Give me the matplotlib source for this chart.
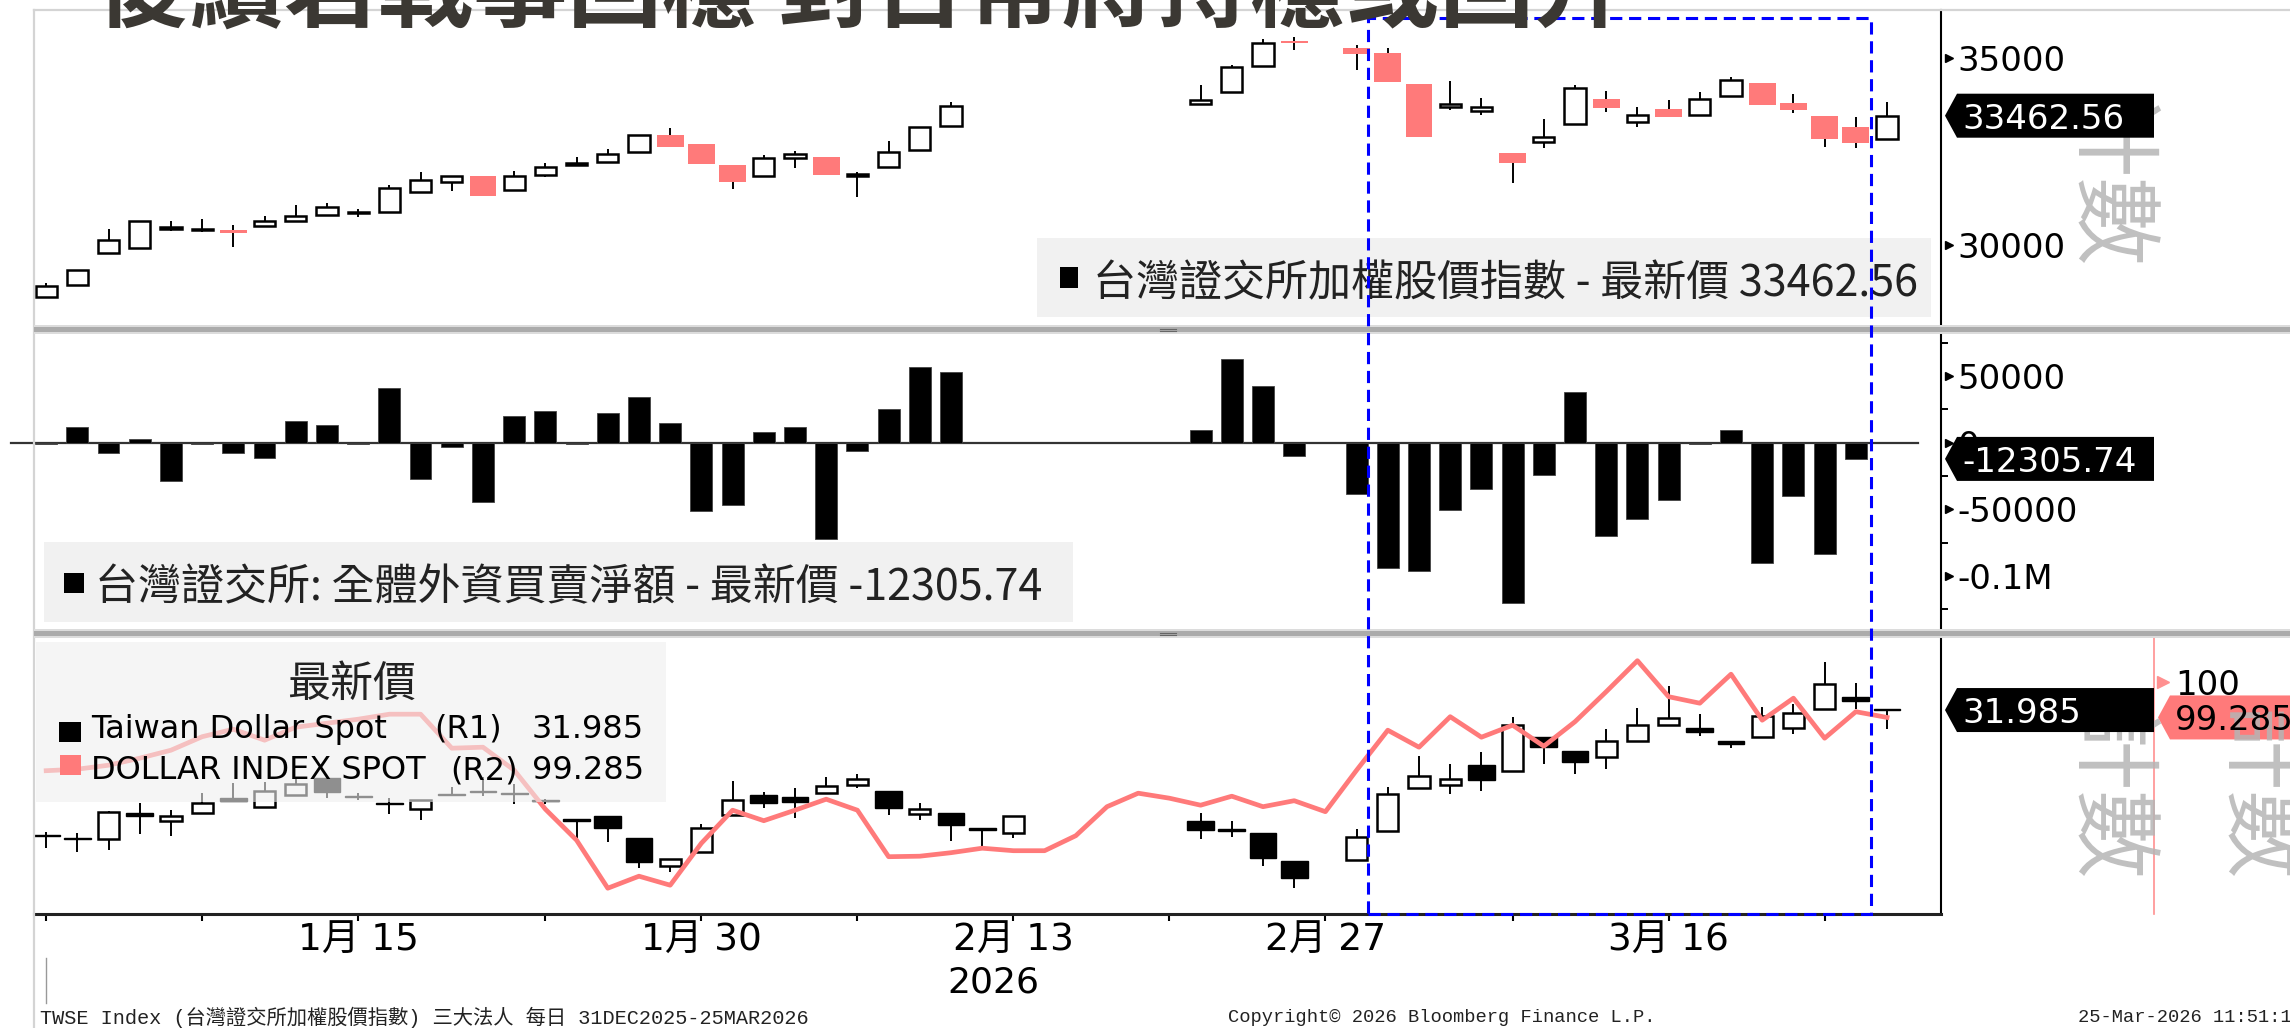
import matplotlib
matplotlib.use('Agg')
import matplotlib.pyplot as plt
import numpy as np
from matplotlib.patches import Rectangle, Polygon
from matplotlib.transforms import IdentityTransform

W, H = 2290, 1028
CJK = ['Noto Sans CJK TC', 'DejaVu Sans']
LAT = ['DejaVu Sans', 'Noto Sans CJK TC']
MONO = ['Liberation Mono', 'Noto Sans CJK TC']
PINK = '#ff7a7a'

# x positions are weekday slots: 0 = 31 Dec 2025 ... 59 = 25 Mar 2026
label_slots = [10, 21, 31, 41, 52]
tick_labels = ['1月 15', '1月 30', '2月 13', '2月 27', '3月 16']
minor_slots = [0, 5, 16, 26, 36, 47, 57]

# TWSE index candles
twse_x = list(range(0, 30)) + [37, 38, 39, 40] + list(range(42, 60))
twse_open = [28616, 28929, 29776, 29910, 30420, 30390, 30401, 30517, 30651, 30803,
             30850, 30892, 31428, 31696, 31857, 31473, 31874, 32142, 32214, 32499,
             32946, 32705, 32142, 31848, 32321, 32365, 31848, 32080, 32544, 33195,
             33767, 34088, 34793, 35472,
             35267, 35150, 34302, 33704, 33588, 32472, 32767, 33240, 33910, 33285,
             33642, 33481, 33999, 34347, 33811, 33454, 33169, 32830]
twse_high = [28973, 29330, 30419, 30651, 30651, 30696, 30535, 30776, 31071, 31115,
             30955, 31607, 31964, 31857, 31857, 31990, 32187, 32347, 32562, 32946,
             33124, 32705, 32142, 32410, 32517, 32365, 31964, 32794, 33151, 33838,
             34285, 34820, 35508, 35561,
             35356, 35284, 34302, 34392, 33927, 32472, 33365, 34285, 34124, 33704,
             33883, 34106, 34490, 34347, 34044, 33454, 33437, 33838]
twse_low = [28616, 28929, 29776, 29910, 30384, 30339, 29955, 30517, 30620, 30803,
            30758, 30892, 31428, 31446, 31312, 31473, 31830, 32142, 32214, 32499,
            32633, 32160, 31500, 31848, 32053, 31874, 31276, 32080, 32544, 33195,
            33767, 34088, 34793, 35222,
            34686, 34374, 32901, 33615, 33481, 31651, 32589, 33240, 33570, 33151,
            33437, 33481, 33999, 33749, 33526, 32633, 32589, 32830]
twse_close = [28902, 29330, 30134, 30651, 30470, 30420, 30330, 30651, 30776, 31008,
              30885, 31517, 31740, 31857, 31312, 31857, 32098, 32187, 32437, 32946,
              32633, 32160, 31678, 32321, 32428, 31874, 31901, 32499, 33151, 33722,
              33883, 34758, 35418, 35400,
              35115, 34374, 32901, 33767, 33687, 32205, 32901, 34195, 33660, 33481,
              33437, 33901, 34419, 33749, 33615, 32830, 32722, 33462.56]

# foreign investors net buy/sell
flow_x = list(range(0, 30)) + [37, 38, 39, 40] + list(range(42, 59))
flow = [-1200, 12000, -7500, 2500, -28500, -1200, -7750, -11500, 16000, 13250,
        -1200, 41000, -27250, -3500, -44500, 19750, 24000, -1200, 22250, 34250,
        14500, -51000, -46500, 7750, 12000, -72000, -6000, 25250, 56500, 52750,
        9250, 63000, 42250, -9750,
        -38500, -94000, -96500, -50750, -34750, -120250, -24500, 38000, -70250,
        -57000, -42750, -1200, 9250, -90250, -40250, -83500, -12305.74]

# USD/TWD candles
twd_x = list(range(0, 32)) + [37, 38, 39, 40] + list(range(42, 60))
twd_open = [31.441, 31.429, 31.424, 31.536, 31.502, 31.539, 31.601, 31.562, 31.615, 31.688,
            31.611, 31.581, 31.554, 31.620, 31.632, 31.625, 31.593, 31.510, 31.526, 31.427,
            31.307, 31.366, 31.528, 31.615, 31.608, 31.623, 31.659, 31.633, 31.531, 31.536,
            31.470, 31.449,
            31.504, 31.466, 31.452, 31.330,
            31.333, 31.460, 31.645, 31.659, 31.746, 31.721, 31.866, 31.808, 31.782, 31.852,
            31.920, 31.905, 31.852, 31.866, 31.905, 31.988, 32.043, 31.988]
twd_high = [31.456, 31.449, 31.546, 31.582, 31.550, 31.623, 31.666, 31.673, 31.688, 31.688,
            31.623, 31.601, 31.594, 31.652, 31.695, 31.663, 31.600, 31.510, 31.526, 31.427,
            31.336, 31.488, 31.676, 31.630, 31.644, 31.695, 31.707, 31.633, 31.579, 31.536,
            31.470, 31.526,
            31.536, 31.504, 31.452, 31.330,
            31.466, 31.652, 31.786, 31.749, 31.801, 31.953, 31.866, 31.808, 31.902, 31.992,
            32.089, 31.968, 31.852, 31.999, 32.011, 32.195, 32.104, 31.988]
twd_low = [31.383, 31.369, 31.376, 31.446, 31.439, 31.539, 31.591, 31.562, 31.615, 31.601,
           31.594, 31.531, 31.507, 31.611, 31.611, 31.576, 31.576, 31.427, 31.410, 31.296,
           31.279, 31.366, 31.528, 31.557, 31.514, 31.623, 31.647, 31.528, 31.507, 31.415,
           31.391, 31.427,
           31.423, 31.431, 31.308, 31.210,
           31.333, 31.460, 31.645, 31.620, 31.634, 31.721, 31.749, 31.705, 31.727, 31.852,
           31.920, 31.872, 31.818, 31.866, 31.879, 31.988, 31.988, 31.902]
twd_close = [31.437, 31.425, 31.540, 31.526, 31.526, 31.579, 31.591, 31.634, 31.663, 31.630,
             31.605, 31.577, 31.594, 31.616, 31.628, 31.621, 31.589, 31.501, 31.471, 31.325,
             31.336, 31.471, 31.594, 31.579, 31.583, 31.655, 31.683, 31.560, 31.554, 31.485,
             31.463, 31.526,
             31.463, 31.460, 31.340, 31.253,
             31.434, 31.618, 31.699, 31.685, 31.681, 31.920, 31.826, 31.757, 31.852, 31.920,
             31.952, 31.891, 31.837, 31.959, 31.973, 32.098, 32.025, 31.985]

# Dollar index line
dxy_x = list(range(0, 60))
dxy = [98.22, 98.25, 98.33, 98.47, 98.63, 98.90, 99.05, 98.83, 99.09, 99.17,
       99.25, 99.35, 99.35, 98.67, 98.69, 98.23, 97.45, 96.83, 95.87, 96.11,
       95.93, 96.77, 97.43, 97.22, 97.43, 97.65, 97.43, 96.50, 96.51, 96.58,
       96.67, 96.62, 96.62, 96.92, 97.50, 97.77, 97.67, 97.53, 97.71, 97.50,
       97.62, 97.40, 98.23, 99.03, 98.69, 99.30, 98.89, 99.13, 98.71, 99.20,
       99.80, 100.42, 99.70, 99.57, 100.15, 99.23, 99.67, 98.87, 99.40, 99.285]

fig = plt.figure(figsize=(W / 100, H / 100), dpi=100)
fig.patch.set_facecolor('white')


def axes_px(x0, y0, x1, y1):
    return fig.add_axes([x0 / W, 1 - y1 / H, (x1 - x0) / W, (y1 - y0) / H])


def frect(x0, y0, x1, y1, **kw):
    r = Rectangle((x0 / W, 1 - y1 / H), (x1 - x0) / W, (y1 - y0) / H,
                  transform=fig.transFigure, **kw)
    fig.add_artist(r)
    return r


def fline(xs, ys, **kw):
    fig.add_artist(plt.Line2D([x / W for x in xs], [1 - y / H for y in ys],
                              transform=fig.transFigure, **kw))


def candles(ax, x, o, h, l, c, down_color, down_edge, minh):
    x = np.array(x, float)
    o, h, l, c = (np.array(v, float) for v in (o, h, l, c))
    ax.vlines(x, l, h, color='black', lw=1.4, zorder=2)
    up = c >= o
    bot = np.minimum(o, c)
    hgt = np.maximum(np.abs(c - o), minh)
    ax.bar(x[up], hgt[up], bottom=bot[up], width=0.68, facecolor='white',
           edgecolor='black', lw=1.8, zorder=3)
    ax.bar(x[~up], hgt[~up], bottom=bot[~up], width=0.86, facecolor=down_color,
           edgecolor=down_edge, lw=1.0, zorder=3)


XL = (-0.39, 60.73)
ax1 = axes_px(34, 10, 1941, 327)
ax2 = axes_px(34, 333, 1941, 631)
ax3 = axes_px(34, 636, 1941, 914)
ax3b = ax3.twinx()

for ax in (ax1, ax2, ax3, ax3b):
    ax.set_xlim(*XL)
    ax.patch.set_alpha(0)
    for s in ('left', 'top'):
        ax.spines[s].set_visible(False)
    ax.spines['right'].set_linewidth(1.5)
for ax in (ax1, ax2, ax3b):
    ax.spines['bottom'].set_visible(False)
    ax.tick_params(axis='x', which='both', bottom=False, labelbottom=False)

ax1.set_ylim(27804, 36293)
ax2.set_ylim(-141375, 82125)
ax3.set_ylim(31.098, 32.307)
ax3b.set_ylim(95.354, 100.914)

# top panel: TWSE
candles(ax1, twse_x, twse_open, twse_high, twse_low, twse_close, PINK, 'none', 30)
ax1.yaxis.tick_right()
ax1.set_yticks([30000, 35000])
ax1.set_yticklabels(['30000', '35000'])
ax1.tick_params(axis='y', length=0, pad=12, labelsize=24.5)
ax1.plot([1.004, 1.004], [30000, 35000], ls='none', marker='>', ms=6, color='black',
         transform=ax1.get_yaxis_transform(), clip_on=False)

# middle panel: foreign net flows
ax2.bar(flow_x, flow, width=0.7, color='black', edgecolor='#444444', lw=0.6, zorder=2)
ax2.axhline(0, xmin=-0.012, xmax=0.988, color='#333333', lw=1.6, clip_on=False, zorder=1)
ax2.yaxis.tick_right()
ax2.set_yticks([50000, 0, -50000, -100000])
ax2.set_yticklabels(['50000', '0', '-50000', '-0.1M'])
ax2.set_yticks([75000, 25000, -25000, -75000, -125000], minor=True)
ax2.tick_params(axis='y', which='major', length=0, pad=12, labelsize=24.5)
ax2.tick_params(axis='y', which='minor', length=5, width=1.4, direction='out')
ax2.plot([1.004] * 4, [50000, 0, -50000, -100000], ls='none', marker='>', ms=6,
         color='black', transform=ax2.get_yaxis_transform(), clip_on=False)

# bottom panel: USD/TWD candles + DXY
candles(ax3, twd_x, twd_open, twd_high, twd_low, twd_close, 'black', 'black', 0.004)
ax3.set_yticks([])
ax3.spines['bottom'].set_linewidth(2.2)
ax3.spines['bottom'].set_color('#222222')
ax3.set_xticks(label_slots)
ax3.set_xticklabels(tick_labels, family=LAT, fontsize=27)
ax3.set_xticks(minor_slots, minor=True)
ax3.tick_params(axis='x', which='both', length=5, width=1.5, direction='out', pad=1)
ax3.text(30.35, -0.245, '2026', transform=ax3.get_xaxis_transform(), ha='center',
         va='center', fontsize=26, family=LAT)
ax3.plot([0, 0], [-0.158, -0.32], transform=ax3.get_xaxis_transform(), clip_on=False,
         color='#999999', lw=1)

ax3b.plot(dxy_x, dxy, color=PINK, lw=3.4, zorder=4)
ax3b.spines['right'].set_position(('outward', 153.4))
ax3b.spines['right'].set_color('#ff9090')
ax3b.spines['right'].set_linewidth(1.2)
ax3b.set_yticks([100])
ax3b.set_yticklabels(['100'])
ax3b.tick_params(axis='y', length=0, pad=15, labelsize=24.5)
ax3b.plot([1.1162], [100], ls='none', marker='>', ms=8, color='#ff9090',
          transform=ax3b.get_yaxis_transform(), clip_on=False)

# frame lines and panel separators
fline([34, 2290], [10, 10], color='#d4d4d4', lw=1.6)
fline([34, 34], [10, 1028], color='#d4d4d4', lw=1.6)
for y0 in (325, 629):
    frect(34, y0, 2290, y0 + 9, facecolor='#dcdcdc', edgecolor='none', zorder=2)
    frect(34, y0 + 2, 2290, y0 + 7, facecolor='#ababab', edgecolor='none', zorder=2)
    fline([1160, 1176], [y0 + 3.5, y0 + 3.5], color='#666666', lw=0.8, zorder=3)
    fline([1160, 1176], [y0 + 5.5, y0 + 5.5], color='#666666', lw=0.8, zorder=3)

# legends
frect(1037, 238, 1931, 317, facecolor='#f1f1f1', edgecolor='none', zorder=1.5)
frect(1060, 267, 1078, 288, facecolor='black', edgecolor='none', zorder=2)
fig.text(1093 / W, 1 - 279 / H, '台灣證交所加權股價指數 - 最新價 33462.56', family=CJK,
         fontsize=31, va='center_baseline', ha='left', color='#222222')

frect(44, 542, 1073, 622, facecolor='#f1f1f1', edgecolor='none', zorder=1.5)
frect(64, 573, 84, 593, facecolor='black', edgecolor='none', zorder=2)
fig.text(95 / W, 1 - 583 / H, '台灣證交所: 全體外資買賣淨額 - 最新價 -12305.74', family=CJK,
         fontsize=31, va='center_baseline', ha='left', color='#222222')

frect(36, 642, 666, 802, facecolor='#efefef', edgecolor='none', alpha=0.6, zorder=1.5)
fig.text(352 / W, 1 - 680 / H, '最新價', family=CJK, fontsize=31,
         va='center_baseline', ha='center', color='#222222')
frect(59, 722, 81, 742, facecolor='black', edgecolor='none', zorder=2)
frect(60, 755, 81, 775, facecolor=PINK, edgecolor='none', zorder=2)
for yy, name, tag_r, val, xr in ((726, 'Taiwan Dollar Spot', '(R1)', '31.985', 434),
                                 (767, 'DOLLAR INDEX SPOT', '(R2)', '99.285', 450)):
    fig.text(91 / W, 1 - yy / H, name, family=LAT, fontsize=23, va='center_baseline',
             ha='left', color='black')
    fig.text(xr / W, 1 - yy / H, tag_r, family=LAT, fontsize=23, va='center_baseline',
             ha='left', color='black')
    fig.text(644 / W, 1 - yy / H, val, family=LAT, fontsize=23, va='center_baseline',
             ha='right', color='black')

# grey axis-name watermarks
for wx, wy in ((2105, 182), (2105, 795), (2255, 795)):
    fig.text(wx / W, 1 - wy / H, '計數', family=CJK, fontsize=64, rotation=270,
             color='#b5b5b5', alpha=0.85, ha='center', va='center', zorder=4)


def tag(ax, val, txt, x0, x1, face, tcolor, z=5):
    y = ax.transData.transform((0, val))[1]
    hh = 22
    pts = [(x0, y), (x0 + 12, y + hh), (x1, y + hh), (x1, y - hh), (x0 + 12, y - hh)]
    fig.add_artist(Polygon(pts, closed=True, transform=IdentityTransform(),
                           facecolor=face, edgecolor='none', zorder=z))
    fig.text((x0 + 17) / W, y / H, txt, color=tcolor, fontsize=24.5, family=LAT,
             va='center_baseline', ha='left', zorder=z + 1)


tag(ax1, twse_close[-1], '33462.56', 1945, 2154, 'black', 'white')
tag(ax2, flow[-1], '-12305.74', 1945, 2154, 'black', 'white')
tag(ax3, twd_close[-1], '31.985', 1945, 2154, 'black', 'white')
tag(ax3b, dxy[-1], '99.285', 2158, 2300, PINK, 'black', z=3)

# highlight box
frect(1368, 18, 1871, 914, facecolor='none', edgecolor='#0000ff', lw=2.2,
      linestyle=(0, (4, 2.2)), zorder=7)

# title (cropped at the top edge in the source)
fig.text(95 / W, 1 - 20 / H, '後續若戰事回穩 對台幣將持穩或回升', family=CJK,
         fontsize=68, fontweight='bold', color='#3b3833', ha='left', va='baseline',
         zorder=8)

# footer
fig.text(40 / W, 1 - 1017 / H, 'TWSE Index (台灣證交所加權股價指數) 三大法人 每日 31DEC2025-25MAR2026',
         family=MONO, fontsize=14.6, va='center', ha='left', color='#222222')
fig.text(1228 / W, 1 - 1017 / H, 'Copyright© 2026 Bloomberg Finance L.P.',
         family=MONO, fontsize=13.5, va='center', ha='left', color='#222222')
fig.text(2078 / W, 1 - 1017 / H, '25-Mar-2026 11:51:13',
         family=MONO, fontsize=13.5, va='center', ha='left', color='#222222')

fig.savefig('out.png', dpi=100)
